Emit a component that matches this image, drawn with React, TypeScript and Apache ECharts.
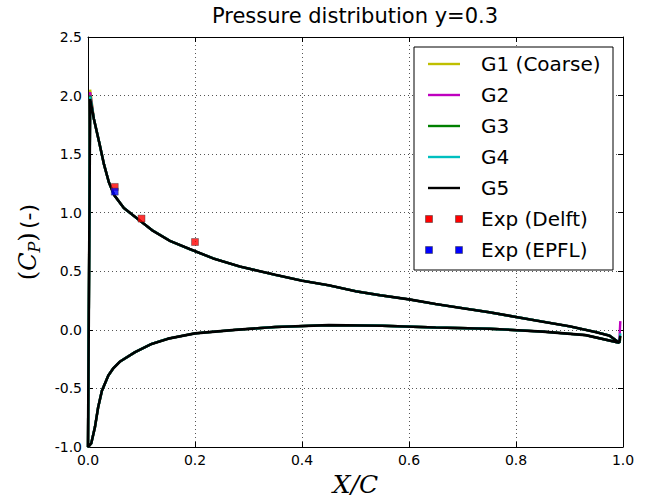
import React, { useEffect, useRef } from "react";
import * as echarts from "echarts";

// ---------- data ----------
// suction side (upper curve), leading edge -> trailing edge
const upperX = [0.004, 0.011, 0.021, 0.030, 0.039, 0.049, 0.067, 0.092, 0.12, 0.153, 0.19, 0.234, 0.284, 0.35, 0.4, 0.45, 0.5, 0.546, 0.6, 0.65, 0.7, 0.75, 0.8, 0.85, 0.9, 0.95, 0.975, 0.993];
const upperCp = [1.98, 1.80, 1.60, 1.41, 1.26, 1.15, 1.04, 0.95, 0.85, 0.76, 0.69, 0.61, 0.54, 0.47, 0.42, 0.38, 0.33, 0.295, 0.26, 0.22, 0.185, 0.15, 0.11, 0.07, 0.03, -0.02, -0.05, -0.11];
// pressure side (lower curve), leading edge -> trailing edge
const lowerX = [0.0, 0.006, 0.013, 0.019, 0.026, 0.038, 0.047, 0.06, 0.088, 0.119, 0.15, 0.2, 0.275, 0.35, 0.45, 0.55, 0.65, 0.75, 0.85, 0.93, 0.993];
const lowerCp = [-1.0, -0.97, -0.83, -0.66, -0.52, -0.39, -0.33, -0.27, -0.19, -0.12, -0.075, -0.03, 0.0, 0.025, 0.04, 0.035, 0.02, 0.01, -0.015, -0.045, -0.11];

const seriesNames = ["G1 (Coarse)", "G2", "G3", "G4", "G5"];
const seriesColors = ["#bfbf00", "#bf00bf", "#008000", "#00bfbf", "#000000"];
const peakCp = [2.05, 2.03, 2.0, 1.99, 1.97];
const trailingX = 0.995;
const trailingCp = [-0.06, 0.075, -0.08, -0.03, -0.05];

const delftX = [0.05, 0.1, 0.2];
const delftCp = [1.22, 0.95, 0.75];
const epflX = [0.05];
const epflCp = [1.18];

const legendItems = [
  { name: "G1 (Coarse)", color: "#bfbf00", kind: "line" },
  { name: "G2", color: "#bf00bf", kind: "line" },
  { name: "G3", color: "#008000", kind: "line" },
  { name: "G4", color: "#00bfbf", kind: "line" },
  { name: "G5", color: "#000000", kind: "line" },
  { name: "Exp (Delft)", color: "#ff0000", kind: "square" },
  { name: "Exp (EPFL)", color: "#0000ff", kind: "square" },
];

function buildCurve(i: number): number[][] {
  const pts: number[][] = [];
  for (let k = lowerX.length - 1; k >= 0; k--) pts.push([lowerX[k], lowerCp[k]]);
  for (let k = 0; k < upperX.length; k++) {
    pts.push([upperX[k], k === 0 ? peakCp[i] : upperCp[k]]);
  }
  pts.push([trailingX, trailingCp[i]]);
  return pts;
}

const SANS = "DejaVu Sans";
const SERIF = "DejaVu Serif";

export default function App() {
  const ref = useRef<HTMLDivElement>(null);
  useEffect(() => {
    if (!ref.current) return;
    const chart = echarts.init(ref.current, null, { renderer: "svg" });

    const lineSeries = seriesNames.map((name, i) => ({
      name,
      type: "line",
      data: buildCurve(i),
      showSymbol: false,
      symbol: "none",
      lineStyle: { color: seriesColors[i], width: i === 4 ? 2.6 : 2.4 },
      itemStyle: { color: seriesColors[i] },
      z: 2 + i,
      silent: true,
    }));

    const legendGraphics: any[] = [
      {
        type: "rect",
        shape: { x: 414, y: 47, width: 199, height: 223 },
        style: { fill: "#fff", stroke: "#000", lineWidth: 1 },
        z: 100,
      },
    ];
    legendItems.forEach((it, i) => {
      const cy = 64 + i * 31;
      if (it.kind === "line") {
        legendGraphics.push({
          type: "line",
          shape: { x1: 428, y1: cy, x2: 460, y2: cy },
          style: { stroke: it.color, lineWidth: 2.4 },
          z: 101,
        });
      } else {
        [429, 459].forEach((cx) =>
          legendGraphics.push({
            type: "rect",
            shape: { x: cx - 3.5, y: cy - 3.5, width: 7, height: 7 },
            style: { fill: it.color, stroke: "#333", lineWidth: 0.5 },
            z: 101,
          })
        );
      }
      legendGraphics.push({
        type: "text",
        x: 481,
        y: cy,
        style: {
          text: it.name,
          fontFamily: SANS,
          fontSize: 20,
          fill: "#000",
          verticalAlign: "middle",
          align: "left",
        },
        z: 101,
      });
    });

    const fmt = (v: number) => v.toFixed(1);

    chart.setOption({
      animation: false,
      backgroundColor: "#fff",
      title: {
        text: "Pressure distribution y=0.3",
        left: 355,
        top: 5,
        padding: 0,
        textAlign: "center",
        textStyle: { fontFamily: SANS, fontSize: 21, fontWeight: "normal", color: "#000" },
      },
      grid: { left: 88, right: 23, top: 37, bottom: 54, containLabel: false },
      xAxis: [
        {
          type: "value",
          min: 0,
          max: 1,
          interval: 0.2,
          position: "bottom",
          axisLine: { show: true, onZero: false, lineStyle: { color: "#000", width: 1 } },
          axisTick: { show: true, inside: true, length: 5, lineStyle: { color: "#000" } },
          axisLabel: {
            formatter: fmt,
            fontFamily: SANS,
            fontSize: 14,
            color: "#000",
            margin: 6,
          },
          splitLine: { show: true, lineStyle: { color: "#555", type: [1, 3], width: 1 } },
          name: "{i|X/C}",
          nameLocation: "middle",
          nameGap: 25,
          nameTextStyle: {
            rich: { i: { fontFamily: SERIF, fontStyle: "italic", fontSize: 25, color: "#000" } },
          },
        },
        {
          type: "value",
          min: 0,
          max: 1,
          interval: 0.2,
          position: "top",
          axisLine: { show: true, onZero: false, lineStyle: { color: "#000", width: 1 } },
          axisTick: { show: true, inside: true, length: 5, lineStyle: { color: "#000" } },
          axisLabel: { show: false },
          splitLine: { show: false },
        },
      ],
      yAxis: [
        {
          type: "value",
          min: -1,
          max: 2.5,
          interval: 0.5,
          position: "left",
          axisLine: { show: true, onZero: false, lineStyle: { color: "#000", width: 1 } },
          axisTick: { show: true, inside: true, length: 5, lineStyle: { color: "#000" } },
          axisLabel: {
            formatter: fmt,
            fontFamily: SANS,
            fontSize: 14,
            color: "#000",
            margin: 6,
          },
          splitLine: { show: true, lineStyle: { color: "#555", type: [1, 3], width: 1 } },
          name: "{p|(}{c|C}{s|P}{p|)} {n|(-)}",
          nameLocation: "middle",
          nameRotate: 90,
          nameGap: 46,
          nameTextStyle: {
            rich: {
              p: { fontFamily: SERIF, fontSize: 24, color: "#000" },
              c: { fontFamily: SERIF, fontStyle: "italic", fontSize: 24, color: "#000" },
              s: { fontFamily: SERIF, fontStyle: "italic", fontSize: 16, color: "#000", padding: [12, 0, 0, 0] },
              n: { fontFamily: SANS, fontSize: 22, color: "#000" },
            },
          },
        },
        {
          type: "value",
          min: -1,
          max: 2.5,
          interval: 0.5,
          position: "right",
          axisLine: { show: true, onZero: false, lineStyle: { color: "#000", width: 1 } },
          axisTick: { show: true, inside: true, length: 5, lineStyle: { color: "#000" } },
          axisLabel: { show: false },
          splitLine: { show: false },
        },
      ],
      series: [
        ...lineSeries,
        {
          name: "Exp (Delft)",
          type: "scatter",
          data: delftX.map((x, i) => [x, delftCp[i]]),
          symbol: "rect",
          symbolSize: 7,
          itemStyle: { color: "#ff0000", borderColor: "#333", borderWidth: 0.5 },
          z: 20,
          silent: true,
        },
        {
          name: "Exp (EPFL)",
          type: "scatter",
          data: epflX.map((x, i) => [x, epflCp[i]]),
          symbol: "rect",
          symbolSize: 7,
          itemStyle: { color: "#0000ff", borderColor: "#333", borderWidth: 0.5 },
          z: 21,
          silent: true,
        },
      ],
      graphic: legendGraphics,
    });

    return () => chart.dispose();
  }, []);

  return (
    <div
      ref={ref}
      style={{ position: "fixed", left: 0, top: 0, width: 646, height: 502, background: "#fff" }}
    />
  );
}
